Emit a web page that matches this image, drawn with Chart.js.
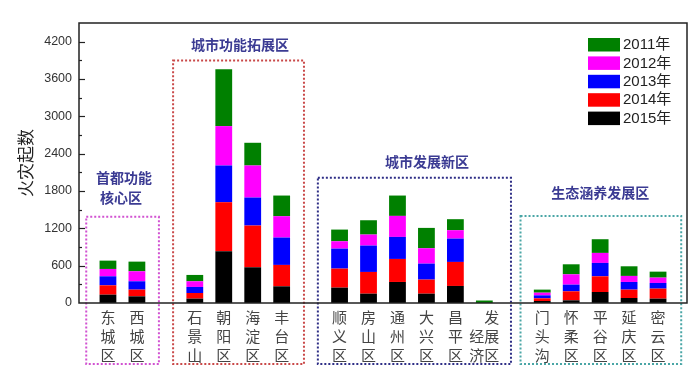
<!DOCTYPE html>
<html>
<head>
<meta charset="utf-8">
<script src="https://cdn.jsdelivr.net/npm/chart.js@4/dist/chart.umd.min.js"></script>
<style>
  html, body { margin: 0; padding: 0; background: #fff; }
  #wrap { width: 700px; height: 374px; position: relative; }
</style>
</head>
<body>
<div id="wrap"><canvas id="fire-chart"></canvas></div>
<script>
// Fire counts by Beijing district, 2011-2015 (stacked)

// x categories (empty entries are gaps between district groups)
const districts = ["", "东城区", "西城区", "", "石景山", "朝阳区", "海淀区", "丰台区", "",
  "顺义区", "房山区", "通州区", "大兴区", "昌平区", "经济发展区", "",
  "门头沟", "怀柔区", "平谷区", "延庆区", "密云区", ""];

const fires2015 = [null, 134, 107, null, 70, 832, 574, 268, null, 247, 150, 338, 150, 274, 0, null, 32, 43, 177, 80, 70, null];
const fires2014 = [null, 150, 108, null, 91, 788, 671, 344, null, 306, 349, 370, 226, 386, 0, null, 43, 145, 252, 135, 161, null];
const fires2013 = [null, 145, 134, null, 97, 590, 450, 440, null, 321, 424, 354, 257, 375, 0, null, 48, 107, 215, 123, 91, null];
const fires2012 = [null, 118, 161, null, 91, 633, 515, 343, null, 118, 177, 338, 247, 135, 0, null, 43, 166, 161, 97, 86, null];
const fires2011 = [null, 134, 155, null, 102, 912, 365, 332, null, 188, 230, 327, 327, 177, 40, null, 49, 161, 220, 155, 96, null];

const yearLabels = ["2015年", "2014年", "2013年", "2012年", "2011年"];
const yTickMax = 4500;
const yTickStep = 300;

// district groups drawn as dotted boxes with a title
const groups = [
  { title: ["首都功能", "核心区"], from: 1, to: 2, top: 1385, titleX: 1.55, titleY: 2012, color: "#d152d1", padR: 0.76 },
  { title: ["城市功能拓展区"], from: 4, to: 7, top: 3897, titleX: 5.56, titleY: 4152, color: "#c94848", padR: 0.77 },
  { title: ["城市发展新区"], from: 9, to: 14, top: 2013, titleX: 12.02, titleY: 2269, color: "#2e2e86", padR: 0.92 },
  { title: ["生态涵养发展区"], from: 16, to: 20, top: 1400, titleX: 18.0, titleY: 1770, color: "#4aa6a6", padR: 0.8 },
];

const CJK = "'Noto Sans CJK SC', 'Noto Sans', sans-serif";
const LATIN = "'Liberation Sans', Arial, 'Noto Sans CJK SC', sans-serif";

// Split a district name into one character per line
function verticalLabel(name) {
  if (name === "经济发展区") return ["\u3000发", "经展", "济区"];
  return name.split("");
}

// Frame, inward tick marks, group boxes and legend
const decorPlugin = {
  id: "decor",
  afterDraw(chart) {
    const ctx = chart.ctx;
    const area = chart.chartArea;
    const xs = chart.scales.x;
    const ys = chart.scales.y;
    const step = xs.getPixelForValue(1) - xs.getPixelForValue(0);

    ctx.save();

    // group boxes
    groups.forEach((g) => {
      const left = xs.getPixelForValue(g.from) - 0.75 * step;
      const right = xs.getPixelForValue(g.to) + g.padR * step;
      const top = ys.getPixelForValue(g.top);
      const bottom = area.bottom + 61;
      ctx.strokeStyle = g.color;
      ctx.lineWidth = 2;
      ctx.setLineDash([2, 2]);
      ctx.strokeRect(left, top, right - left, bottom - top);
      ctx.setLineDash([]);

      ctx.fillStyle = "#3b3b93";
      ctx.font = "bold 14px " + CJK;
      ctx.textAlign = "center";
      ctx.textBaseline = "middle";
      const tx = xs.getPixelForValue(g.titleX);
      const ty = ys.getPixelForValue(g.titleY);
      g.title.forEach((line, i) => ctx.fillText(line, tx - i * 3, ty + i * 20));
    });

    // frame
    ctx.strokeStyle = "#222";
    ctx.lineWidth = 1.5;
    ctx.strokeRect(area.left, area.top, area.right - area.left, area.bottom - area.top);

    // y tick marks pointing inward
    ctx.lineWidth = 1.2;
    for (let v = yTickStep; v < yTickMax; v += yTickStep) {
      const y = Math.round(ys.getPixelForValue(v)) + 0.5;
      const len = v % 600 === 0 ? 6 : 3;
      ctx.beginPath();
      ctx.moveTo(area.left, y);
      ctx.lineTo(area.left + len, y);
      ctx.stroke();
    }

    // legend, 2011 on top
    const lx = area.right - 99;
    let ly = area.top + 15;
    ctx.font = "15px " + LATIN;
    ctx.textAlign = "left";
    ctx.textBaseline = "middle";
    chart.data.datasets.slice().reverse().forEach((ds) => {
      ctx.fillStyle = ds.backgroundColor;
      ctx.fillRect(lx, ly, 32, 13.5);
      ctx.fillStyle = "#222";
      ctx.fillText(ds.label, lx + 35, ly + 7);
      ly += 18.4;
    });

    ctx.restore();
  },
};

const seriesValues = [fires2015, fires2014, fires2013, fires2012, fires2011];
const seriesColors = ["#000000", "#ff0000", "#0000ff", "#ff00ff", "#008000"];

const datasets = seriesValues.map((values, i) => ({
  label: yearLabels[i],
  data: values,
  backgroundColor: seriesColors[i],
  borderWidth: 0,
  barPercentage: 0.58,
  categoryPercentage: 1,
}));

new Chart(document.getElementById("fire-chart"), {
  type: "bar",
  data: { labels: districts, datasets: datasets },
  options: {
    responsive: true,
    maintainAspectRatio: false,
    animation: false,
    layout: { padding: { top: 23, right: 13, left: 8, bottom: 0 } },
    plugins: {
      legend: { display: false },
      tooltip: { enabled: false },
    },
    scales: {
      x: {
        stacked: true,
        offset: false,
        grid: { display: false, drawTicks: false },
        border: { display: false },
        afterFit: (scale) => { scale.height = 71; },
        ticks: {
          autoSkip: false,
          maxRotation: 0,
          padding: 5,
          color: "#444",
          font: { family: CJK, size: 15, lineHeight: "19px" },
          callback: function (value) {
            return verticalLabel(this.getLabelForValue(value));
          },
        },
      },
      y: {
        stacked: true,
        min: 0,
        max: yTickMax,
        grid: { display: false, drawTicks: false },
        border: { display: false },
        afterFit: (scale) => { scale.width = 71; },
        title: {
          display: true,
          text: "火灾起数",
          color: "#222",
          padding: { top: 7, bottom: 0 },
          font: { family: CJK, size: 17 },
        },
        ticks: {
          stepSize: yTickStep,
          padding: 7,
          color: "#333",
          font: { family: LATIN, size: 12.5 },
          callback: (v) => (v % 600 === 0 ? v : ""),
        },
      },
    },
  },
  plugins: [decorPlugin],
});
</script>
</body>
</html>
